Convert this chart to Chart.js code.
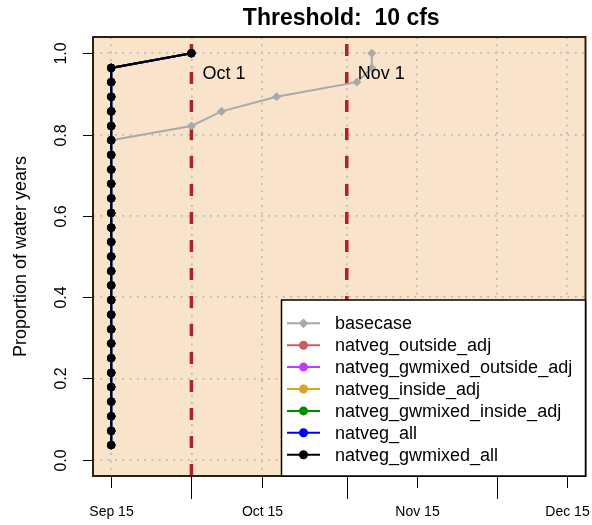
<!DOCTYPE html>
<html>
<head>
<meta charset="utf-8">
<script src="https://cdn.jsdelivr.net/npm/chart.js@4.4.0/dist/chart.umd.min.js"></script>
<style>
body { margin: 0; background: #fff; }
canvas { display: block; }
</style>
</head>
<body>
<canvas id="thresholdChart" width="592" height="525"></canvas>
<script>
// x values are days counted from Sep 15
var tickDays = [0, 16, 30, 47, 61, 77, 91];
var tickLabels = ["Sep 15", "", "Oct 15", "", "Nov 15", "", "Dec 15"];
var yTicks = [0, 0.2, 0.4, 0.6, 0.8, 1.0];
var markerDays = [16, 47];
var markerLabels = ["Oct 1", "Nov 1"];

var seriesNames = ["basecase", "natveg_outside_adj", "natveg_gwmixed_outside_adj",
  "natveg_inside_adj", "natveg_gwmixed_inside_adj", "natveg_all", "natveg_gwmixed_all"];
var seriesColors = ["#a9a9a9", "#cd5c5c", "#bf3eff", "#daa520", "#008b00", "#0000ff", "#000000"];

var basecaseDays = [0, 16, 22, 33, 49, 52, 52];
var basecaseVals = [0.786, 0.821, 0.857, 0.893, 0.929, 0.964, 1.0];

// all natveg runs sit on top of each other, black drawn last
var natvegDays = [0, 0, 0, 0, 0, 0, 0, 0, 0, 0, 0, 0, 0, 0, 0, 0, 0, 0, 0, 0, 0, 0, 0, 0, 0, 0, 0, 16];
var natvegVals = [0.036, 0.071, 0.107, 0.143, 0.179, 0.214, 0.25, 0.286, 0.321, 0.357,
  0.393, 0.429, 0.464, 0.5, 0.536, 0.571, 0.607, 0.643, 0.679, 0.714,
  0.75, 0.786, 0.821, 0.857, 0.893, 0.929, 0.964, 1.0];

var font = "'Liberation Sans', Arial, Helvetica, sans-serif";

function toPoints(days, vals) {
  return days.map(function (d, i) { return { x: d, y: vals[i] }; });
}

var datasets = seriesNames.map(function (name, i) {
  var isBase = i === 0;
  return {
    label: name,
    data: isBase ? toPoints(basecaseDays, basecaseVals) : toPoints(natvegDays, natvegVals),
    showLine: true,
    borderColor: seriesColors[i],
    backgroundColor: seriesColors[i],
    borderWidth: 2,
    pointStyle: isBase ? 'rectRot' : 'circle',
    pointRadius: isBase ? 4 : 3.8,
    pointBorderWidth: 1,
    order: seriesNames.length - 1 - i
  };
});

var extras = {
  id: 'extras',
  beforeDraw: function (chart) {
    var a = chart.chartArea, ctx = chart.ctx;
    ctx.save();
    ctx.fillStyle = '#fae3cb';
    ctx.fillRect(a.left, a.top, a.right - a.left, a.bottom - a.top);
    ctx.restore();
  },
  beforeDatasetsDraw: function (chart) {
    var a = chart.chartArea, ctx = chart.ctx, xs = chart.scales.x;
    ctx.save();
    ctx.strokeStyle = '#b22222';
    ctx.lineWidth = 3.5;
    ctx.setLineDash([12, 16]);
    markerDays.forEach(function (d) {
      var px = xs.getPixelForValue(d);
      ctx.beginPath();
      ctx.moveTo(px, a.bottom);
      ctx.lineTo(px, a.top);
      ctx.stroke();
    });
    ctx.restore();
  },
  afterDatasetsDraw: function (chart) {
    var ctx = chart.ctx, xs = chart.scales.x, ys = chart.scales.y;
    ctx.save();
    ctx.fillStyle = '#000';
    ctx.font = '18px ' + font;
    ctx.textAlign = 'left';
    ctx.textBaseline = 'middle';
    markerDays.forEach(function (d, i) {
      ctx.fillText(markerLabels[i], xs.getPixelForValue(d) + 11, ys.getPixelForValue(0.95));
    });
    ctx.restore();
  },
  afterDraw: function (chart) {
    var a = chart.chartArea, ctx = chart.ctx, xs = chart.scales.x, ys = chart.scales.y;
    ctx.save();

    // x tick marks, longer on month starts, labels on the 15th
    ctx.strokeStyle = '#000';
    ctx.fillStyle = '#000';
    ctx.lineWidth = 1;
    ctx.font = '14px ' + font;
    ctx.textAlign = 'center';
    ctx.textBaseline = 'middle';
    tickDays.forEach(function (d, i) {
      var px = Math.round(xs.getPixelForValue(d)) + 0.5;
      var len = tickLabels[i] ? 12 : 23;
      ctx.beginPath();
      ctx.moveTo(px, a.bottom);
      ctx.lineTo(px, a.bottom + len);
      ctx.stroke();
      if (tickLabels[i]) ctx.fillText(tickLabels[i], px, 512);
    });

    // y ticks with rotated labels
    ctx.font = '16px ' + font;
    yTicks.forEach(function (v) {
      var py = Math.round(ys.getPixelForValue(v)) + 0.5;
      ctx.beginPath();
      ctx.moveTo(a.left - 10, py);
      ctx.lineTo(a.left, py);
      ctx.stroke();
      ctx.save();
      ctx.translate(62, py);
      ctx.rotate(-Math.PI / 2);
      ctx.fillText(v.toFixed(1), 0, 0);
      ctx.restore();
    });

    // axis title
    ctx.save();
    ctx.font = '18px ' + font;
    ctx.translate(21, (a.top + a.bottom) / 2);
    ctx.rotate(-Math.PI / 2);
    ctx.fillText('Proportion of water years', 0, 0);
    ctx.restore();

    // main title
    ctx.font = 'bold 23px ' + font;
    ctx.textBaseline = 'alphabetic';
    ctx.fillText('Threshold:  10 cfs', (a.left + a.right) / 2 + 2, 25);

    // plot box
    ctx.strokeStyle = '#2e2010';
    ctx.lineWidth = 2;
    ctx.strokeRect(a.left, a.top, a.right - a.left, a.bottom - a.top);

    // legend
    var lx = 281.5, ly = 300, lw = a.right - lx, lh = a.bottom - ly;
    ctx.fillStyle = '#fff';
    ctx.fillRect(lx, ly, lw, lh);
    ctx.strokeStyle = '#000';
    ctx.lineWidth = 1.5;
    ctx.strokeRect(lx, ly, lw, lh);
    ctx.font = '18px ' + font;
    ctx.textAlign = 'left';
    ctx.textBaseline = 'middle';
    chart.data.datasets.forEach(function (ds, i) {
      var ry = 323.3 + i * 21.9;
      ctx.strokeStyle = ds.borderColor;
      ctx.lineWidth = 2;
      ctx.beginPath();
      ctx.moveTo(287, ry);
      ctx.lineTo(320, ry);
      ctx.stroke();
      ctx.fillStyle = ds.backgroundColor;
      Chart.helpers.drawPoint(ctx, {
        pointStyle: ds.pointStyle, radius: 3.5, rotation: 0, borderWidth: 1
      }, 303.5, ry);
      ctx.fillStyle = '#000';
      ctx.fillText(ds.label, 335, ry + 1);
    });
    ctx.restore();
  }
};

new Chart(document.getElementById('thresholdChart'), {
  type: 'scatter',
  data: { datasets: datasets },
  options: {
    responsive: false,
    animation: false,
    layout: { padding: { top: 37, right: 6.5, left: 0, bottom: 0 } },
    plugins: {
      legend: { display: false },
      title: { display: false },
      tooltip: { enabled: false }
    },
    elements: { line: { tension: 0 } },
    scales: {
      x: {
        type: 'linear',
        min: -3.64,
        max: 94.64,
        afterBuildTicks: function (s) { s.ticks = tickDays.map(function (d) { return { value: d }; }); },
        afterFit: function (s) { s.height = 49; s.paddingLeft = 0; s.paddingRight = 0; },
        ticks: { display: false },
        grid: { drawTicks: false, color: '#bdbdbd', lineWidth: 1.8 },
        border: { display: false, dash: [2, 5.3] }
      },
      y: {
        min: -0.04,
        max: 1.04,
        afterBuildTicks: function (s) { s.ticks = yTicks.map(function (v) { return { value: v }; }); },
        afterFit: function (s) { s.width = 93; s.paddingTop = 0; s.paddingBottom = 0; },
        ticks: { display: false },
        grid: { drawTicks: false, color: '#bdbdbd', lineWidth: 1.8 },
        border: { display: false, dash: [2, 5.3] }
      }
    }
  },
  plugins: [extras]
});
</script>
</body>
</html>
